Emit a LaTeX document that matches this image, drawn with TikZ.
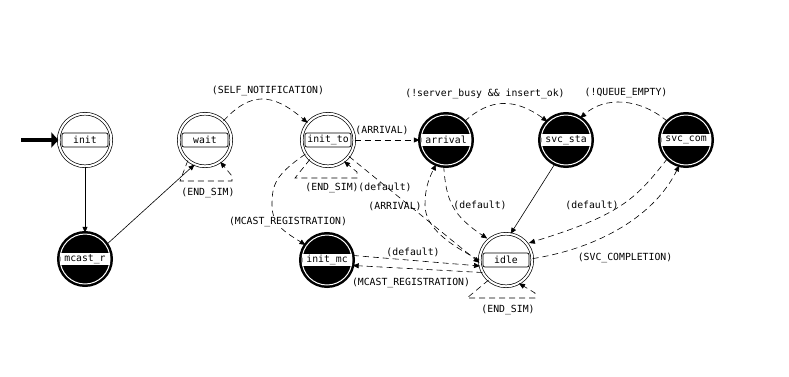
\documentclass[tikz,border=0pt]{standalone}
\usepackage{fontspec}
\setmonofont{DejaVu Sans Mono}
\usetikzlibrary{arrows.meta}
\begin{document}
\begin{tikzpicture}[x=1pt,y=-1pt,
    font=\ttfamily\fontsize{9.8}{11}\selectfont,
    wstate/.style={circle, draw, fill=white, line width=0.7pt, double, double distance=2pt, minimum size=52.6pt, inner sep=0pt},
    bstate/.style={circle, draw, fill=black, line width=2.5pt, double=white, double distance=1pt, minimum size=50pt, inner sep=0pt},
    wname/.style={draw, fill=white, rounded corners=2pt, line width=0.7pt, minimum width=46pt, minimum height=14pt, inner sep=0pt},
    bname/.style={fill=white, minimum width=49pt, minimum height=12pt, inner sep=0pt},
    trans/.style={line width=0.6pt, dash pattern=on 6pt off 4pt, -{Triangle[length=6pt,width=5pt]}},
    strans/.style={line width=0.6pt, -{Triangle[length=6pt,width=5pt]}},
    cond/.style={inner sep=1pt}]
    \useasboundingbox (0,0) rectangle (789,376);

    \node[wstate] (init) at (85,140) {};
    \node[wname] (initn) at (init) {init};
    \node[wstate] (wait) at (205,140) {};
    \node[wname] (waitn) at (wait) {wait};
    \node[wstate] (initto) at (328,140) {};
    \node[wname] (inittonn) at (initto) {init\_to};
    \node[bstate] (arrival) at (446,140) {};
    \node[bname] (arrivaln) at (arrival) {arrival};
    \node[bstate] (svcstart) at (566,140) {};
    \node[bname] (svcstartn) at (svcstart) {svc\_sta};
    \node[bstate] (svccom) at (686,140) {};
    \node[bname] (svccomn) at (svccom) {svc\_com};
    \node[bstate] (mcastr) at (85,259) {};
    \node[bname] (mcastrn) at (mcastr) {mcast\_r};
    \node[bstate] (initmc) at (327,260) {};
    \node[bname] (initmcn) at (initmc) {init\_mc};
    \node[wstate] (idle) at (506,260) {};
    \node[wname] (idlen) at (idle) {idle};

    \coordinate (start) at (21,140);
    \draw[line width=4pt, -{Triangle[length=7pt,width=15pt]}] (start) -- (init);

    \draw[strans] (init) -- (mcastr);
    \draw[strans] (mcastr.34) -- (wait.-113);
    \draw[trans] (wait.-130) -- (180,181) -- (232,181) -- (232,176) -- (wait.-55);
    \node[cond] (waitend) at (208,193) {(END\_SIM)};
    \draw[trans] (wait.46) .. controls (250,92) and (272,92) .. (initto.140);
    \node[cond] (selfnotif) at (268,91) {(SELF\_NOTIFICATION)};

    \draw[trans] (initto) -- (arrival);
    \node[cond] (arrivalone) at (382,130) {(ARRIVAL)};
    \draw[trans] (initto.-133) -- (295,178) -- (357,178) -- (357,172) -- (initto.-53);
    \node[cond] (inittoend) at (332,188) {(END\_SIM)};
    \draw[trans] (initto.-38) -- (idle.186);
    \node[cond] (inittodef) at (385,187) {(default)};
    \draw[trans] (initto.-148) .. controls (275,175) and (272,185) .. (272,205)
        .. controls (272,225) and (285,232) .. (initmc.145);
    \node[cond, fill=white] (mcastone) at (288,222) {(MCAST\_REGISTRATION)};

    \draw[trans] (idle.180) .. controls (450,245) and (425,228) .. (425,205)
        .. controls (425,190) and (428,180) .. (arrival.-112);
    \node[cond] (arrivaltwo) at (395,206) {(ARRIVAL)};
    \draw[trans, shorten >=2pt] (arrival.-95) .. controls (446,200) and (452,215) .. (idle.130);
    \node[cond] (arrivaldef) at (480,205) {(default)};
    \draw[trans] (arrival.45) .. controls (490,98) and (515,98) .. (svcstart.135);
    \node[cond] (busy) at (485,94) {(!server\_busy \&\& insert\_ok)};

    \draw[strans] (svcstart.-115) -- (idle.80);
    \draw[trans] (svccom.135) .. controls (640,98) and (605,96) .. (svcstart.57);
    \node[cond] (queue) at (626,93) {(!QUEUE\_EMPTY)};
    \draw[trans, shorten >=2pt] (svccom.-135) .. controls (635,200) and (620,215) .. (idle.38);
    \node[cond] (svccomdef) at (592,205) {(default)};
    \draw[trans] (idle.3) .. controls (600,248) and (655,215) .. (svccom.-105);
    \node[cond] (completion) at (625,258) {(SVC\_COMPLETION)};

    \draw[trans] (initmc.10) -- (idle.193);
    \node[cond] (initmcdef) at (413,252) {(default)};
    \draw[trans] (idle.208) -- (initmc.-12);
    \node[cond] (mcasttwo) at (411,283) {(MCAST\_REGISTRATION)};
    \draw[trans] (idle.-131) -- (467,298) -- (535,298) -- (535,293) -- (idle.-61);
    \node[cond] (idleend) at (508,310) {(END\_SIM)};
\end{tikzpicture}
\end{document}
